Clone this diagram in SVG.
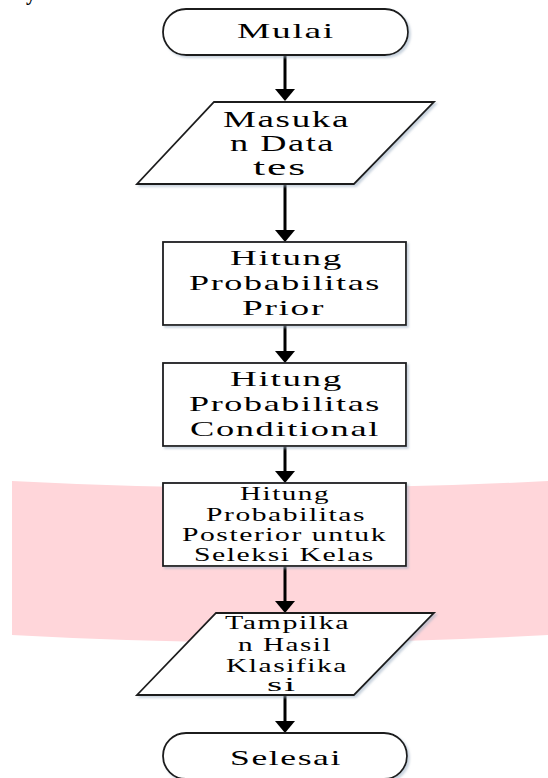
<svg xmlns="http://www.w3.org/2000/svg" width="548" height="778" viewBox="0 0 548 778">
<style>
.shape{fill:#fff;stroke:#1e1e1e;stroke-width:1.8;filter:url(#sh)}
.t{font-family:"Liberation Serif","Times New Roman",serif;fill:#000;letter-spacing:1px}
.conn{stroke:#000;stroke-width:3;fill:none;marker-end:url(#ah)}
</style>
<defs>
<filter id="sh" x="-10%" y="-10%" width="125%" height="130%">
<feDropShadow dx="2" dy="2" stdDeviation="1.2" flood-color="#9fb0c4" flood-opacity="0.55"/>
</filter>
<marker id="ah" markerUnits="userSpaceOnUse" markerWidth="12" markerHeight="20" refX="4" refY="10" orient="auto" viewBox="0 0 12 20">
<path d="M0,0 L12,10 L0,20 z" fill="#000"/>
</marker>
</defs>
<rect width="548" height="778" fill="#fff"/>
<text class="t" x="26" y="0" font-size="20" font-weight="bold">y</text>
<path id="band" d="M12,481 Q280,495 548,481 L548,635 Q280,650 12,635 Z" fill="#ffd6da"/>
<g id="connectors">
<line class="conn" x1="285" y1="55" x2="285" y2="93"/>
<line class="conn" x1="285" y1="184" x2="285" y2="234"/>
<line class="conn" x1="285" y1="325" x2="285" y2="355"/>
<line class="conn" x1="285" y1="446" x2="285" y2="475"/>
<line class="conn" x1="285" y1="566" x2="285" y2="605"/>
<line class="conn" x1="285" y1="695" x2="285" y2="725"/>
</g>
<g id="mulai">
<rect class="shape" x="163" y="9" width="245" height="46" rx="23" ry="23"/>
<text class="t" x="237" y="38" font-size="22" textLength="98" lengthAdjust="spacingAndGlyphs">Mulai</text>
</g>
<g id="masukan">
<polygon class="shape" points="214,102 434,102 354,184 137,184"/>
<text class="t" font-size="23">
<tspan x="223" y="126.5" textLength="127" lengthAdjust="spacingAndGlyphs">Masuka</tspan>
<tspan x="230" y="151" textLength="105" lengthAdjust="spacingAndGlyphs">n Data</tspan>
<tspan x="253" y="175" textLength="54" lengthAdjust="spacingAndGlyphs">tes</tspan>
</text>
</g>
<g id="prior">
<rect class="shape" x="163" y="242" width="243" height="83"/>
<text class="t" font-size="22">
<tspan x="230" y="265" textLength="113" lengthAdjust="spacingAndGlyphs">Hitung</tspan>
<tspan x="189" y="290" textLength="192" lengthAdjust="spacingAndGlyphs">Probabilitas</tspan>
<tspan x="242" y="315" textLength="83" lengthAdjust="spacingAndGlyphs">Prior</tspan>
</text>
</g>
<g id="conditional">
<rect class="shape" x="163" y="363" width="243" height="83"/>
<text class="t" font-size="22">
<tspan x="230" y="386" textLength="113" lengthAdjust="spacingAndGlyphs">Hitung</tspan>
<tspan x="189" y="411" textLength="192" lengthAdjust="spacingAndGlyphs">Probabilitas</tspan>
<tspan x="190" y="436" textLength="190" lengthAdjust="spacingAndGlyphs">Conditional</tspan>
</text>
</g>
<g id="posterior">
<rect class="shape" x="163" y="483" width="243" height="83"/>
<text class="t" font-size="19">
<tspan x="240" y="500" textLength="90" lengthAdjust="spacingAndGlyphs">Hitung</tspan>
<tspan x="206" y="521" textLength="160" lengthAdjust="spacingAndGlyphs">Probabilitas</tspan>
<tspan x="182" y="541" textLength="205" lengthAdjust="spacingAndGlyphs">Posterior untuk</tspan>
<tspan x="194" y="561" textLength="181" lengthAdjust="spacingAndGlyphs">Seleksi Kelas</tspan>
</text>
</g>
<g id="tampilkan">
<polygon class="shape" points="216,613 434,613 354,695 137,695"/>
<text class="t" font-size="19">
<tspan x="225" y="629" textLength="125" lengthAdjust="spacingAndGlyphs">Tampilka</tspan>
<tspan x="238" y="650.5" textLength="94" lengthAdjust="spacingAndGlyphs">n Hasil</tspan>
<tspan x="226" y="671.5" textLength="122" lengthAdjust="spacingAndGlyphs">Klasifika</tspan>
<tspan x="267" y="691" textLength="30" lengthAdjust="spacingAndGlyphs">si</tspan>
</text>
</g>
<g id="selesai">
<rect class="shape" x="163" y="733" width="244" height="46" rx="23" ry="23"/>
<text class="t" x="230" y="765" font-size="22" textLength="112" lengthAdjust="spacingAndGlyphs">Selesai</text>
</g>
</svg>
